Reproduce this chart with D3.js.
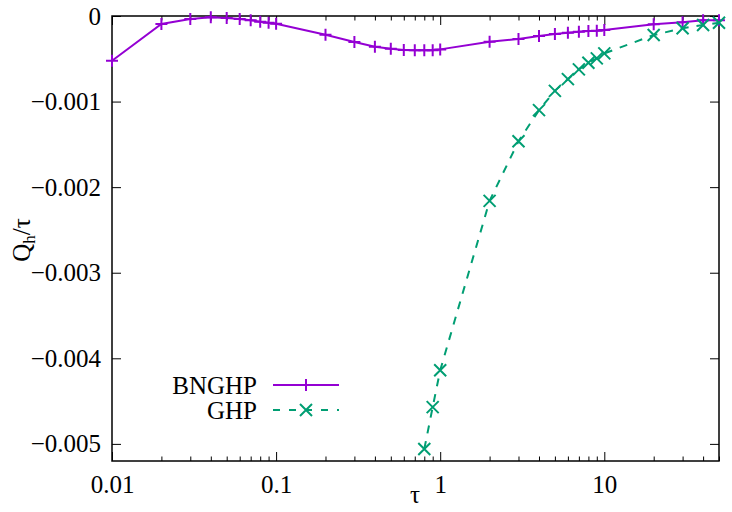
<!DOCTYPE html>
<html>
<head>
<meta charset="utf-8">
<script src="https://cdn.jsdelivr.net/npm/d3@7"></script>
<style>
  body { margin: 0; background: #fff; }
  svg text { font-family: "Liberation Serif", "Times New Roman", "DejaVu Serif", serif !important; }
</style>
</head>
<body>
<div id="chart"></div>
<script>
// data
var tauB = [0.01, 0.02, 0.03, 0.04, 0.05, 0.06, 0.07, 0.08, 0.09, 0.1,
  0.2, 0.3, 0.4, 0.5, 0.6, 0.7, 0.8, 0.9, 1,
  2, 3, 4, 5, 6, 7, 8, 9, 10, 20, 30, 40, 50];
var qB = [-0.000523, -0.000094, -0.000035, -0.000016, -0.000023, -0.000035, -0.00005, -0.000066, -0.000078, -0.00009,
  -0.000219, -0.000304, -0.00036, -0.000383, -0.000398, -0.0004, -0.0004, -0.0004, -0.00039,
  -0.0003, -0.00027, -0.000234, -0.00021, -0.000195, -0.000184, -0.000176, -0.000172, -0.000164,
  -0.0000975, -0.000074, -0.00005, -0.00005];
var tauG = [0.8, 0.9, 1, 2, 3, 4, 5, 6, 7, 8, 9, 10, 20, 30, 40, 50];
var qG = [-0.00506, -0.00457, -0.00414, -0.00216, -0.001464, -0.0011, -0.000875, -0.000738, -0.000624,
  -0.000547, -0.000495, -0.000437, -0.000222, -0.000144, -0.000105, -0.000078];
var xTicks = [0.01, 0.1, 1, 10];
var yTicks = [0, -0.001, -0.002, -0.003, -0.004, -0.005];

var svgWidth = 732, svgHeight = 512;
var margin = { top: 16, right: 13, bottom: 51, left: 112 };
var width = svgWidth - margin.left - margin.right;
var height = svgHeight - margin.top - margin.bottom;
var serif = "Liberation Serif, Times New Roman, serif";
var fs = 25;

var svg = d3.select("#chart").append("svg")
  .attr("width", svgWidth)
  .attr("height", svgHeight)
  .attr("font-family", serif);
var g = svg.append("g")
  .attr("transform", `translate(${margin.left}, ${margin.top})`);

var x = d3.scaleLog().domain([0.01, 50]).range([0, width]);
var y = d3.scaleLinear().domain([-0.0052, 0]).range([height, 0]);

// minor ticks for log axis
var minor = [];
[0.01, 0.1, 1, 10].forEach(function(d) {
  for (var k = 2; k <= 9; k++) { if (d * k <= 50) minor.push(d * k); }
});

var fmtY = function(d) { return d === 0 ? "0" : "\u2212" + d3.format(".3f")(-d); };

// bottom axis
g.append("g").attr("transform", `translate(0, ${height})`)
  .call(d3.axisBottom(x).tickValues(xTicks).tickSize(-9).tickPadding(14).tickFormat(d3.format("")));
g.append("g").attr("transform", `translate(0, ${height})`)
  .call(d3.axisBottom(x).tickValues(minor).tickSize(-4.5).tickFormat(""));
// top mirror
g.append("g").call(d3.axisTop(x).tickValues(xTicks).tickSize(-9).tickFormat(""));
g.append("g").call(d3.axisTop(x).tickValues(minor).tickSize(-4.5).tickFormat(""));

// left axis + right mirror
g.append("g")
  .call(d3.axisLeft(y).tickValues(yTicks).tickSize(-9).tickPadding(11).tickFormat(fmtY));
g.append("g").attr("transform", `translate(${width}, 0)`)
  .call(d3.axisRight(y).tickValues(yTicks).tickSize(-9).tickFormat(""));

g.selectAll("g").attr("font-family", serif).attr("font-size", fs);
g.selectAll(".tick text").attr("fill", "#000");
g.selectAll(".domain").remove();
g.selectAll(".tick line").attr("stroke", "#000").attr("stroke-width", 1);

g.append("rect").attr("width", width).attr("height", height)
  .attr("fill", "none").attr("stroke", "#000").attr("stroke-width", 1.5);

// lines
var lineB = d3.line().x(function(d, i) { return x(tauB[i]); }).y(function(d) { return y(d); });
var lineG = d3.line().x(function(d, i) { return x(tauG[i]); }).y(function(d) { return y(d); });

var purple = "#9400d3", green = "#009e73";

g.append("path").attr("d", lineB(qB)).attr("fill", "none")
  .attr("stroke", purple).attr("stroke-width", 2);
g.append("path").attr("d", lineG(qG)).attr("fill", "none")
  .attr("stroke", green).attr("stroke-width", 2).attr("stroke-dasharray", "8,8");

function plus(sel, cx, cy, c) {
  sel.append("path").attr("d", `M${cx - 6},${cy}H${cx + 6}M${cx},${cy - 6}V${cy + 6}`)
    .attr("stroke", c).attr("stroke-width", 2).attr("fill", "none");
}
function cross(sel, cx, cy, c) {
  sel.append("path").attr("d", `M${cx - 6},${cy - 6}L${cx + 6},${cy + 6}M${cx - 6},${cy + 6}L${cx + 6},${cy - 6}`)
    .attr("stroke", c).attr("stroke-width", 2).attr("fill", "none");
}
qB.forEach(function(d, i) { plus(g, x(tauB[i]), y(d), purple); });
qG.forEach(function(d, i) { cross(g, x(tauG[i]), y(d), green); });

// legend
var leg = svg.append("g");
leg.append("text").attr("x", 257).attr("y", 385).attr("dy", "0.35em")
  .attr("text-anchor", "end").attr("font-size", fs).text("BNGHP");
leg.append("line").attr("x1", 273).attr("x2", 339).attr("y1", 385).attr("y2", 385)
  .attr("stroke", purple).attr("stroke-width", 2);
plus(leg, 306, 385, purple);
leg.append("text").attr("x", 257).attr("y", 410).attr("dy", "0.35em")
  .attr("text-anchor", "end").attr("font-size", fs).text("GHP");
leg.append("line").attr("x1", 273).attr("x2", 339).attr("y1", 410).attr("y2", 410)
  .attr("stroke", green).attr("stroke-width", 2).attr("stroke-dasharray", "7,9").attr("stroke-dashoffset", 0);
cross(leg, 306, 410, green);

// axis titles
svg.append("text").attr("x", 415).attr("y", 503)
  .attr("text-anchor", "middle").attr("font-size", fs).text("\u03c4");
var yl = svg.append("text").attr("transform", "translate(30, 240) rotate(-90)")
  .attr("text-anchor", "middle").attr("font-size", fs);
yl.append("tspan").text("Q");
yl.append("tspan").attr("font-size", 17).attr("dy", 5).text("h");
yl.append("tspan").attr("dy", -5).text("/\u03c4");
</script>
</body>
</html>
